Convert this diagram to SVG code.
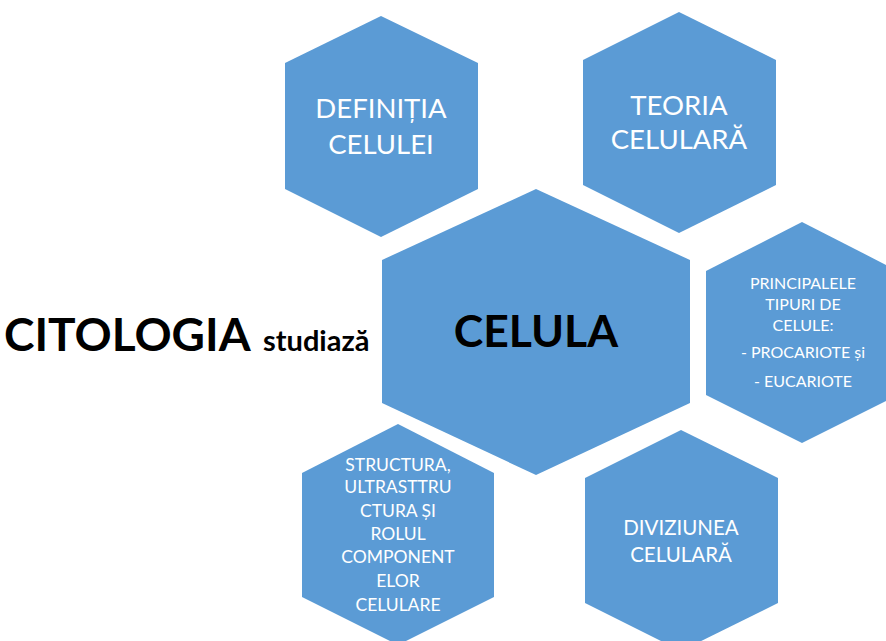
<svg xmlns="http://www.w3.org/2000/svg" width="886" height="641" viewBox="0 0 886 641">
<style>
.hex{fill:#5B9BD5;}
.t{font-family:Lato,"Liberation Sans",sans-serif;fill:#fff;text-anchor:middle;}
.b{font-family:Lato,"Liberation Sans",sans-serif;font-weight:bold;fill:#000;}
</style>
<rect width="886" height="641" fill="#fff"/>
<g id="title">
<text class="b" x="4" y="351" font-size="46">CITOLOGIA</text>
<text class="b" x="263" y="351" font-size="29">studiază</text>
</g>
<g id="connectors"></g>
<g id="definitia">
<polygon class="hex" points="381,16 285,63 285,189 381,237 478,189 478,63"/>
<text class="t" font-size="27.5" x="381" y="118">DEFINIȚIA</text>
<text class="t" font-size="27.5" x="381" y="154">CELULEI</text>
</g>
<g id="teoria">
<polygon class="hex" points="679,12 583,60 583,185 679,233 776,185 776,60"/>
<text class="t" font-size="27.5" x="679" y="115">TEORIA</text>
<text class="t" font-size="27.5" x="679" y="149">CELULARĂ</text>
</g>
<g id="celula">
<polygon class="hex" points="536,189 382,260 382,403 536,475 690,403 690,260"/>
<text class="b" font-size="44.5" x="536" y="347" text-anchor="middle">CELULA</text>
</g>
<g id="tipuri">
<polygon class="hex" points="802,222 706,271 706,395 802,443 898,395 898,271"/>
<text class="t" font-size="16" x="803" y="289">PRINCIPALELE</text>
<text class="t" font-size="16" x="803" y="310">TIPURI DE</text>
<text class="t" font-size="16" x="803" y="331">CELULE:</text>
<text class="t" font-size="16" x="803" y="358">- PROCARIOTE și</text>
<text class="t" font-size="16" x="803" y="387">- EUCARIOTE</text>
</g>
<g id="structura">
<polygon class="hex" points="398,424 302,473 302,597 398,645 494,597 494,473"/>
<text class="t" font-size="17.5" x="398" y="471">STRUCTURA,</text>
<text class="t" font-size="17.5" x="398" y="493">ULTRASTTRU</text>
<text class="t" font-size="17.5" x="398" y="517">CTURA ȘI</text>
<text class="t" font-size="17.5" x="398" y="540">ROLUL</text>
<text class="t" font-size="17.5" x="398" y="563">COMPONENT</text>
<text class="t" font-size="17.5" x="398" y="587">ELOR</text>
<text class="t" font-size="17.5" x="398" y="611">CELULARE</text>
</g>
<g id="diviziunea">
<polygon class="hex" points="681,430 585,478 585,603 681,651 778,603 778,478"/>
<text class="t" font-size="20.5" x="681" y="535">DIVIZIUNEA</text>
<text class="t" font-size="20.5" x="681" y="562">CELULARĂ</text>
</g>
</svg>
